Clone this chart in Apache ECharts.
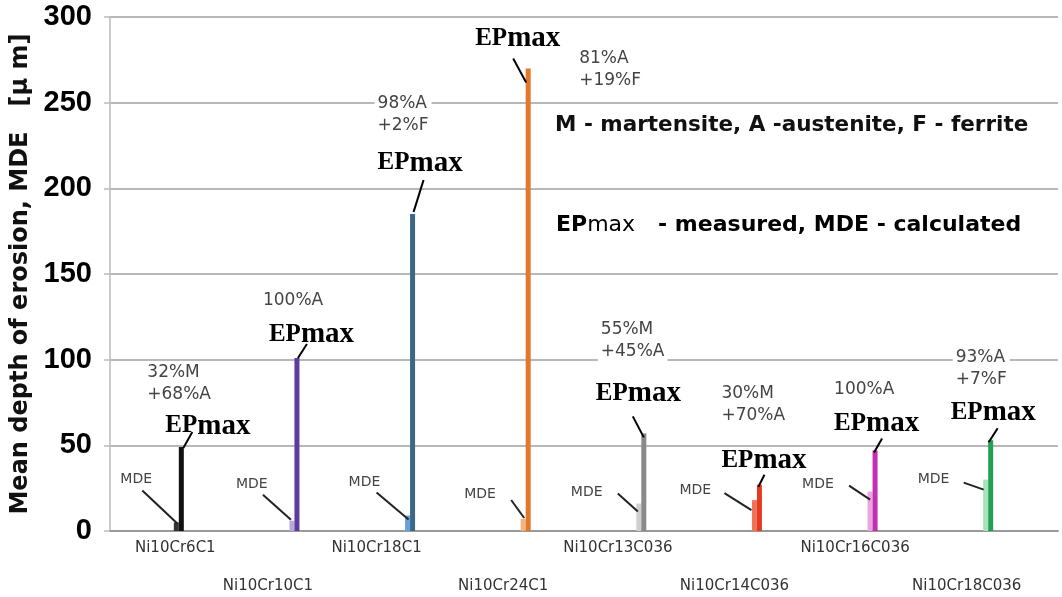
<!DOCTYPE html>
<html><head><meta charset="utf-8">
<script src="https://cdn.jsdelivr.net/npm/echarts@6/dist/echarts.min.js"></script>
<style>html,body{margin:0;padding:0;background:#fff}#c{width:1062px;height:597px}</style>
</head><body><div id="c"></div>
<script>
const categories = ["Ni10Cr6C1","Ni10Cr10C1","Ni10Cr18C1","Ni10Cr24C1","Ni10Cr13C036","Ni10Cr14C036","Ni10Cr16C036","Ni10Cr18C036"];
const epmax = [49, 101, 185, 270, 57, 27, 47, 53];
const mde = [5, 6, 9, 7, 16, 18, 23, 30];
const phases = [["32%M","+68%A"],["100%A"],["98%A","+2%F"],["81%A","+19%F"],["55%M","+45%A"],["30%M","+70%A"],["100%A"],["93%A","+7%F"]];
const yTicks = [0, 50, 100, 150, 200, 250, 300];

// styles
const epColors = ["#111111","#5b3c9c","#3b6887","#e0782e","#8a8a8a","#e33a22","#c22fb3","#23a054"];
const mdeColors = ["#333333","#b9a9d8","#6aa0d8","#f5b27a","#cfcfcf","#f0705a","#eba4e2","#a8e2b8"];
// annotation layout offsets (px) relative to bar tops
const lay = [
 {ep:[-16,-21], el:[2,1,11,-15], cp:[-37,-74], mt:[-56,-43], ml:[-34,-32,1,1]},
 {ep:[-28,-23], el:[1,0,10,-14], cp:[-37,-57], mt:[-56,-36], ml:[-29,-26,-1,-1]},
 {ep:[-35,-51], el:[1,-2,11,-34], cp:[-38,-110], mt:[-59,-33], ml:[-31,-23,1,4]},
 {ep:[-53,-30], el:[-2,14,-15,-10], cp:[48,-10], mt:[-59,-25], ml:[-12,-19,1,-1]},
 {ep:[-48,-40], el:[0,4,-11,-17], cp:[-46,-104], mt:[-68,-11], ml:[-21,-10,-1,8]},
 {ep:[-38,-24], el:[-1,2,5,-10], cp:[-41,-91], mt:[-75,-10], ml:[-30,-7,-3,10]},
 {ep:[-41,-27], el:[-1,2,7,-12], cp:[-44,-61], mt:[-68,-7], ml:[-21,-6,0,8]},
 {ep:[-40,-28], el:[-2,2,7,-12], cp:[-38,-83], mt:[-68,0], ml:[-22,3,-2,10]}
];
const labelShift = [-3.5,-26.5,-33.5,-22.5,-23.5,-22.5,-17.5,-21.5];

const rich = {};
categories.forEach((c,i)=>{
  rich['s'+i] = {fontFamily:'DejaVu Sans', fontSize:15, color:'#333',
    padding:[i%2===1?40:2, Math.max(0,-2*labelShift[i]), 0, 0]};
});

const epRich = {
  a:{fontFamily:'Liberation Serif', fontWeight:'bold', fontSize:25, color:'#000'},
  b:{fontFamily:'Liberation Serif', fontWeight:'bold', fontSize:29, color:'#000'}
};

function renderItem(params, api){
  const i = params.dataIndex;
  const c = api.coord([i, epmax[i]]);
  const P = [c[0]+2.5, c[1]];
  const q = api.coord([i, mde[i]]);
  const Q = [q[0]-2.5, q[1]];
  const L = lay[i];
  return {type:'group', children:[
    {type:'text', style:{text: phases[i].join('\n'), x:P[0]+L.cp[0], y:P[1]+L.cp[1]-11,
      font:'17px "DejaVu Sans"', fill:'#444', lineHeight:22, backgroundColor:'#fff', verticalAlign:'top', align:'left', padding:[0,3,0,3]}},
    {type:'line', shape:{x1:P[0]+L.el[0], y1:P[1]+L.el[1], x2:P[0]+L.el[2], y2:P[1]+L.el[3]}, style:{stroke:'#000', lineWidth:2}},
    {type:'text', style:{text:'{a|EP}{b|max}', rich:epRich, x:P[0]+L.ep[0], y:P[1]+L.ep[1], verticalAlign:'middle', align:'left'}},
    {type:'text', style:{text:'MDE', x:Q[0]+L.mt[0], y:Q[1]+L.mt[1], font:'14px "DejaVu Sans"', fill:'#444', verticalAlign:'middle', align:'left'}},
    {type:'line', shape:{x1:Q[0]+L.ml[0], y1:Q[1]+L.ml[1], x2:Q[0]+L.ml[2], y2:Q[1]+L.ml[3]}, style:{stroke:'#222', lineWidth:2}}
  ]};
}

const chart = echarts.init(document.getElementById('c'), null, {renderer:'canvas'});
chart.setOption({
  animation:false,
  backgroundColor:'#fff',
  grid:[{left:110, right:4, top:17, bottom:66},{left:121, right:16, top:17, bottom:66}],
  xAxis:[
    {gridIndex:0, type:'category', data:[''], axisLine:{lineStyle:{color:'#999', width:2}}, axisTick:{show:false}, axisLabel:{show:false}},
    {gridIndex:1, type:'category', data:categories, axisLine:{show:false}, axisTick:{show:false},
     axisLabel:{interval:0, margin:8, formatter:(v,i)=>'{s'+i+'|'+v+'}', rich:rich}}
  ],
  yAxis:[
    {gridIndex:0, type:'value', min:yTicks[0], max:yTicks[yTicks.length-1], interval:yTicks[1]-yTicks[0],
     axisLine:{show:true, lineStyle:{color:'#bbb', width:1.5}},
     axisTick:{show:true, length:6, lineStyle:{color:'#bbb', width:1.5}},
     splitLine:{lineStyle:{color:'#a0a0a0', width:1.5}},
     axisLabel:{margin:18, fontFamily:'Liberation Sans', fontWeight:'bold', fontSize:29, color:'#000'},
     name:'Mean depth of erosion, MDE   [\u00b5 m]', nameLocation:'middle', nameGap:74, nameRotate:90,
     nameTextStyle:{fontFamily:'DejaVu Sans', fontWeight:'bold', fontSize:24, color:'#111'}},
    {gridIndex:1, type:'value', min:yTicks[0], max:yTicks[yTicks.length-1], interval:yTicks[1]-yTicks[0], show:false}
  ],
  series:[
    {name:'MDE', type:'bar', xAxisIndex:1, yAxisIndex:1, data:mde, barWidth:5, barGap:'0%',
     itemStyle:{color:(p)=>mdeColors[p.dataIndex]}},
    {name:'EPmax', type:'bar', xAxisIndex:1, yAxisIndex:1, data:epmax, barWidth:5, barGap:'0%',
     itemStyle:{color:(p)=>epColors[p.dataIndex]}},
    {name:'ann', type:'custom', xAxisIndex:1, yAxisIndex:1, renderItem:renderItem,
     data:categories.map((c,i)=>[i, epmax[i]]), z:10, silent:true}
  ],
  graphic:[
    {type:'text', left:555, top:114, style:{text:'M - martensite, A -austenite, F - ferrite', font:'bold 21.5px "DejaVu Sans"', fill:'#111'}},
    {type:'text', left:556, top:214, style:{text:'{a|EP}{b|max}{c|   - measured, MDE - calculated}', rich:{
      a:{fontFamily:'DejaVu Sans', fontWeight:'bold', fontSize:22, color:'#111'},
      b:{fontFamily:'DejaVu Sans', fontWeight:'normal', fontSize:22, color:'#111'},
      c:{fontFamily:'DejaVu Sans', fontWeight:'bold', fontSize:22, color:'#111'}}}}
  ]
});
</script></body></html>
